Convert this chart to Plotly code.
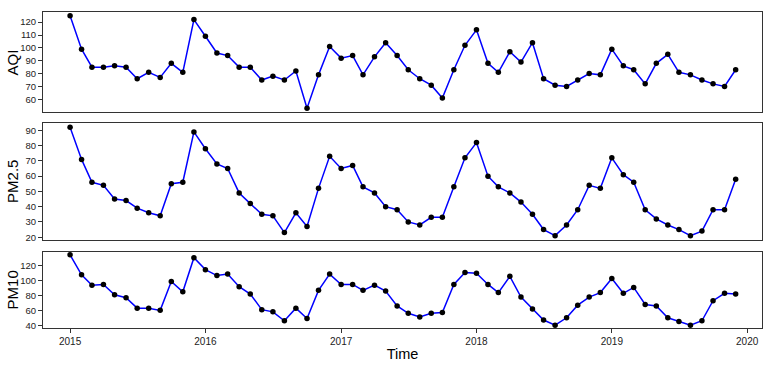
import pandas as pd
import plotly.graph_objects as go
from plotly.subplots import make_subplots

# monthly series, Jan 2015 - Dec 2019
months = pd.date_range("2015-01-01", periods=60, freq="MS")

aqi = [125, 99, 85, 85, 86, 85, 76, 81, 77, 88, 81, 122,
       109, 96, 94, 85, 85, 75, 78, 75, 82, 53, 79, 101,
       92, 94, 79, 93, 104, 94, 83, 76, 71, 61, 83, 102,
       114, 88, 81, 97, 89, 104, 76, 71, 70, 75, 80, 79,
       99, 86, 83, 72, 88, 95, 81, 79, 75, 72, 70, 83]

pm25 = [92, 71, 56, 54, 45, 44, 39, 36, 34, 55, 56, 89,
        78, 68, 65, 49, 42, 35, 34, 23, 36, 27, 52, 73,
        65, 67, 53, 49, 40, 38, 30, 28, 33, 33, 53, 72,
        82, 60, 53, 49, 43, 35, 25, 21, 28, 38, 54, 52,
        72, 61, 56, 38, 32, 28, 25, 21, 24, 38, 38, 58]

pm10 = [135, 108, 94, 95, 81, 77, 63, 63, 60, 99, 85, 131,
        115, 107, 109, 92, 82, 61, 58, 46, 63, 49, 87, 109,
        95, 95, 87, 94, 86, 66, 56, 51, 56, 57, 95, 111,
        110, 95, 84, 106, 78, 62, 47, 40, 50, 67, 78, 84,
        103, 83, 91, 68, 66, 50, 45, 40, 46, 73, 83, 82]

series = [("AQI", aqi), ("PM2.5", pm25), ("PM10", pm10)]
year_ticks = pd.date_range("2015-01-01", "2020-01-01", freq="YS")

fig = make_subplots(rows=3, cols=1, shared_xaxes=False)

for i, (name, vals) in enumerate(series, start=1):
    fig.add_trace(go.Scatter(x=months, y=vals, mode="lines+markers", name=name,
                             line=dict(color="#0000ff", width=1.5),
                             marker=dict(color="black", size=5.5)),
                  row=i, col=1)

# R style 4% padding around data
def padded(v):
    lo, hi = min(v), max(v)
    d = (hi - lo) * 0.04
    return [lo - d, hi + d]

domains = [[0.6835, 1.0], [0.2785, 0.6487], [0.0, 0.2405]]
dticks = [10, 10, 20]
for i, (name, vals) in enumerate(series, start=1):
    fig.update_yaxes(domain=domains[i - 1], range=padded(vals), dtick=dticks[i - 1],
                     automargin=False,
                     showline=True, mirror=True, linecolor="#333", linewidth=1,
                     ticks="outside", ticklen=4, tickcolor="#333",
                     showgrid=False, zeroline=False,
                     tickfont=dict(size=9.5, color="#222"),
                     row=i, col=1)
    fig.update_xaxes(range=["2014-10-20", "2020-02-10"],
                     tickvals=year_ticks, tickformat="%Y", automargin=False,
                     showline=True, mirror=True, linecolor="#333", linewidth=1,
                     ticks="outside" if i == 3 else "", ticklen=4, tickcolor="#333",
                     showticklabels=(i == 3), showgrid=False, zeroline=False,
                     tickfont=dict(size=10, color="#222"),
                     row=i, col=1)
    # y titles as rotated labels left of the tick labels
    fig.add_annotation(text=name, textangle=-90, showarrow=False,
                       xref="paper", x=-0.0425, xanchor="center",
                       yref="y%s domain" % ("" if i == 1 else i), y=0.5, yanchor="middle",
                       font=dict(size=15, color="black"))

fig.update_xaxes(title=dict(text="Time", font=dict(size=14.5, color="black"), standoff=2),
                 row=3, col=1)

fig.update_layout(width=772, height=366, showlegend=False,
                  margin=dict(l=43, r=10, t=12, b=38),
                  font=dict(family="Liberation Sans, Arial, sans-serif"),
                  paper_bgcolor="white", plot_bgcolor="white")

# drop the default 8px body margin so the figure fills the window
fig.write_html("out.html", config={"displayModeBar": False},
               post_script="document.body.style.margin='0';document.body.style.overflow='hidden';")
